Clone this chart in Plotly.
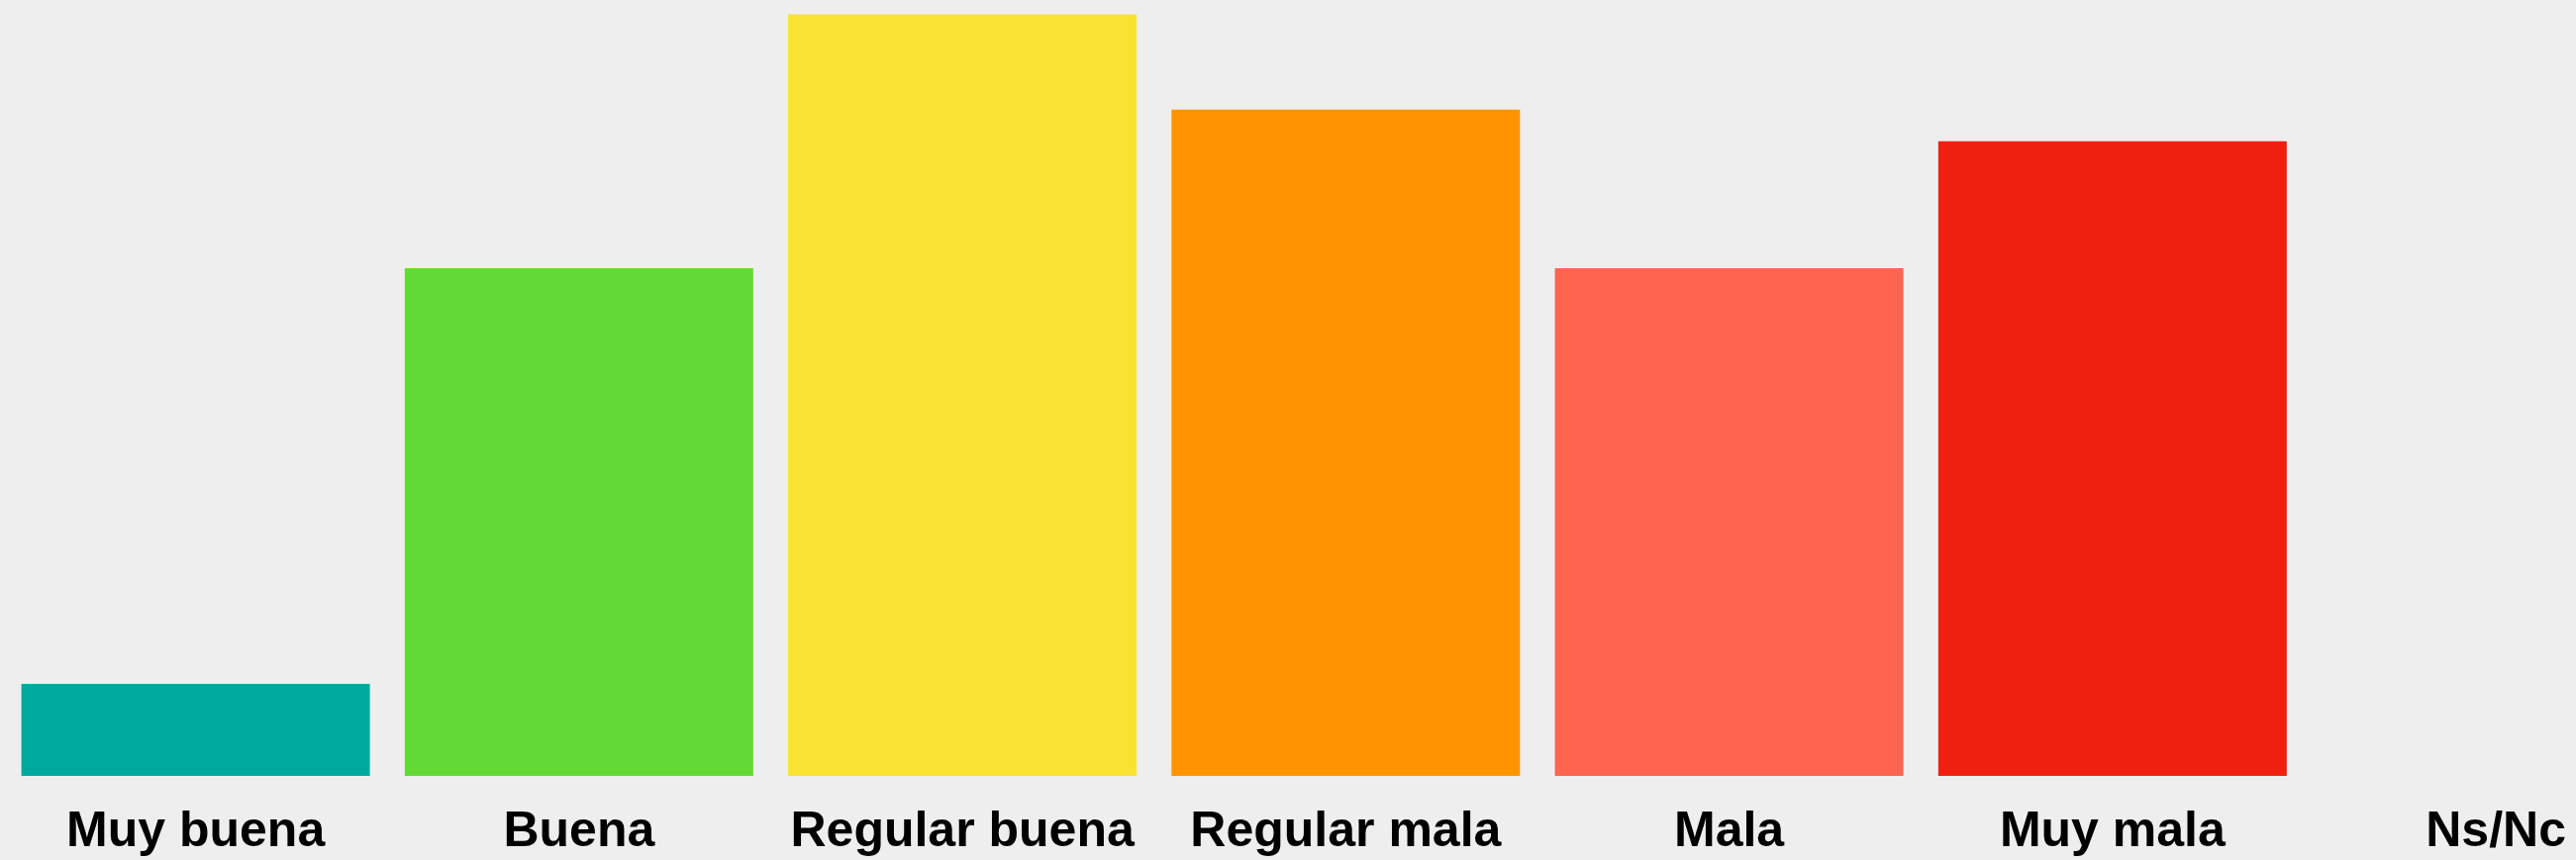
import plotly.graph_objects as go

categories = ["Muy buena", "Buena", "Regular buena", "Regular mala", "Mala", "Muy mala", "Ns/Nc"]
values = [2.9, 16, 24, 21, 16, 20, 0]
colors = ["#00A99D", "#63D936", "#F9E231", "#FF9400", "#FF6450", "#EF210E", "#888888"]

fig = go.Figure(
    go.Bar(
        x=categories,
        y=values,
        marker=dict(color=colors, line=dict(width=0)),
        width=0.909,
        hoverinfo="x+y",
    )
)

fig.update_layout(
    width=2602,
    height=869,
    paper_bgcolor="#EEEEEE",
    plot_bgcolor="#EEEEEE",
    margin=dict(l=4, r=0, t=0, b=85, pad=0),
    showlegend=False,
    font=dict(family="Liberation Sans, Arial, sans-serif", color="#000000"),
    xaxis=dict(
        type="category",
        range=[-0.5, 6.209],
        showgrid=False,
        zeroline=False,
        showline=False,
        ticks="",
        ticklabelstandoff=20,
        tickfont=dict(size=50, family="Liberation Sans, Arial, sans-serif", color="#000000", weight="bold"),
        fixedrange=True,
    ),
    yaxis=dict(
        range=[0, 24.45],
        showgrid=False,
        zeroline=False,
        showline=False,
        showticklabels=False,
        ticks="",
        fixedrange=True,
    ),
)

fig.write_html(
    "out.html",
    config={"displayModeBar": False},
    post_script="document.body.style.margin='0';document.body.style.background='#EEEEEE';document.body.style.overflow='hidden';",
)
